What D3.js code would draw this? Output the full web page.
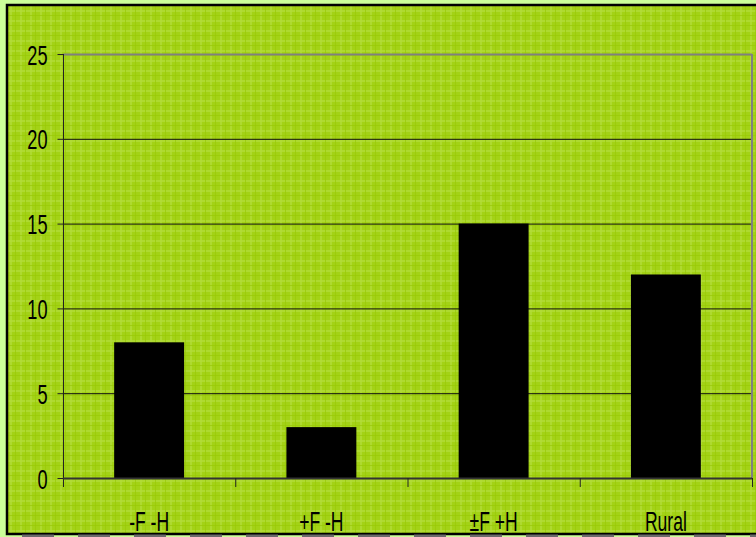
<!DOCTYPE html>
<html>
<head>
<meta charset="utf-8">
<script src="https://cdn.jsdelivr.net/npm/d3@7/dist/d3.min.js"></script>
<style>
  html, body { margin: 0; padding: 0; background: #ccff99; }
  svg { display: block; }
</style>
</head>
<body>
<svg id="chart" width="756" height="537"></svg>
<script>
// Data
const categories = ["-F -H", "+F -H", "±F +H", "Rural"];
const values = [8, 3, 15, 12];
const yTicks = [0, 5, 10, 15, 20, 25];

const W = 756, H = 537;
const plot = { left: 63, right: 752, top: 54, bottom: 478 };
const FONT = "'Liberation Sans', Arial, sans-serif";
const SQUEEZE = 0.65; // condensed lettering

const svg = d3.select("#chart");

// Plaid fill for the chart panel
const defs = svg.append("defs");
const pat = defs.append("pattern")
  .attr("id", "plaid").attr("patternUnits", "userSpaceOnUse")
  .attr("width", 10).attr("height", 10);
pat.append("rect").attr("width", 10).attr("height", 10).attr("fill", "#a3d216");
pat.append("rect").attr("x", 0).attr("y", 0).attr("width", 2).attr("height", 10).attr("fill", "#b3dc3a").attr("opacity", 0.7);
pat.append("rect").attr("x", 0).attr("y", 0).attr("width", 10).attr("height", 2).attr("fill", "#b3dc3a").attr("opacity", 0.7);
pat.append("rect").attr("x", 5).attr("y", 0).attr("width", 1).attr("height", 10).attr("fill", "#99ca06").attr("opacity", 0.7);
pat.append("rect").attr("x", 0).attr("y", 5).attr("width", 10).attr("height", 1).attr("fill", "#99ca06").attr("opacity", 0.7);

// Chart panel
svg.append("rect")
  .attr("x", 7).attr("y", 5).attr("width", W + 10).attr("height", 529)
  .attr("fill", "url(#plaid)")
  .attr("stroke", "#000").attr("stroke-width", 2.5);

// Dashed shadow strip along the bottom
svg.append("line")
  .attr("x1", 22).attr("x2", W).attr("y1", 536).attr("y2", 536)
  .attr("stroke", "#6b6b6b").attr("stroke-width", 3)
  .attr("stroke-dasharray", "32 24");

const x = d3.scaleBand()
  .domain(categories)
  .range([plot.left, plot.right])
  .paddingInner(0.594)
  .paddingOuter(0.297);

const y = d3.scaleLinear().domain([0, 25]).range([plot.bottom, plot.top]);

// Gridlines
svg.append("g").selectAll("line")
  .data(yTicks.filter(t => t > 0))
  .join("line")
  .attr("x1", plot.left).attr("x2", plot.right)
  .attr("y1", d => y(d) + 0.5).attr("y2", d => y(d) + 0.5)
  .attr("stroke", d => d === 25 ? "#808080" : "#111")
  .attr("stroke-width", d => d === 25 ? 2 : 1);

// Right edge of plot area
svg.append("line")
  .attr("x1", plot.right).attr("x2", plot.right)
  .attr("y1", plot.top).attr("y2", plot.bottom)
  .attr("stroke", "#808080").attr("stroke-width", 2);

// Bars
svg.append("g").selectAll("rect")
  .data(values)
  .join("rect")
  .attr("x", (d, i) => x(categories[i]))
  .attr("width", x.bandwidth())
  .attr("y", d => y(d))
  .attr("height", d => y(0) - y(d))
  .attr("fill", "#000");

// Y axis
const yAxis = d3.axisLeft(y).tickValues(yTicks).tickSize(6).tickPadding(10)
  .tickFormat(d3.format("d"));
const gy = svg.append("g").attr("transform", `translate(${plot.left + 0.5},0)`).call(yAxis);
gy.select(".domain").attr("d", `M0,${plot.top}V${plot.bottom + 9}`).attr("stroke", "#222");
gy.selectAll(".tick line").attr("stroke", "#222");
gy.selectAll(".tick text")
  .attr("fill", "#000")
  .attr("font-family", FONT)
  .attr("font-size", 28)
  .attr("dy", "0.36em")
  .attr("x", -16 / SQUEEZE)
  .attr("transform", `scale(${SQUEEZE},1)`);

// X axis line and category tick marks
const step = x.step();
svg.append("line")
  .attr("x1", plot.left).attr("x2", plot.right)
  .attr("y1", plot.bottom + 0.5).attr("y2", plot.bottom + 0.5)
  .attr("stroke", "#333").attr("stroke-width", 2);
svg.append("g").selectAll("line")
  .data(categories)
  .join("line")
  .attr("x1", d => x(d) - x.paddingOuter() * step + step + 0.5)
  .attr("x2", d => x(d) - x.paddingOuter() * step + step + 0.5)
  .attr("y1", plot.bottom).attr("y2", plot.bottom + 9)
  .attr("stroke", "#222");

// Category labels
svg.append("g").selectAll("text")
  .data(categories)
  .join("text")
  .attr("transform", d => `translate(${x(d) + x.bandwidth() / 2},531) scale(${SQUEEZE},1)`)
  .attr("text-anchor", "middle")
  .attr("font-family", FONT)
  .attr("font-size", 27)
  .attr("fill", "#000")
  .text(d => d);
</script>
</body>
</html>
